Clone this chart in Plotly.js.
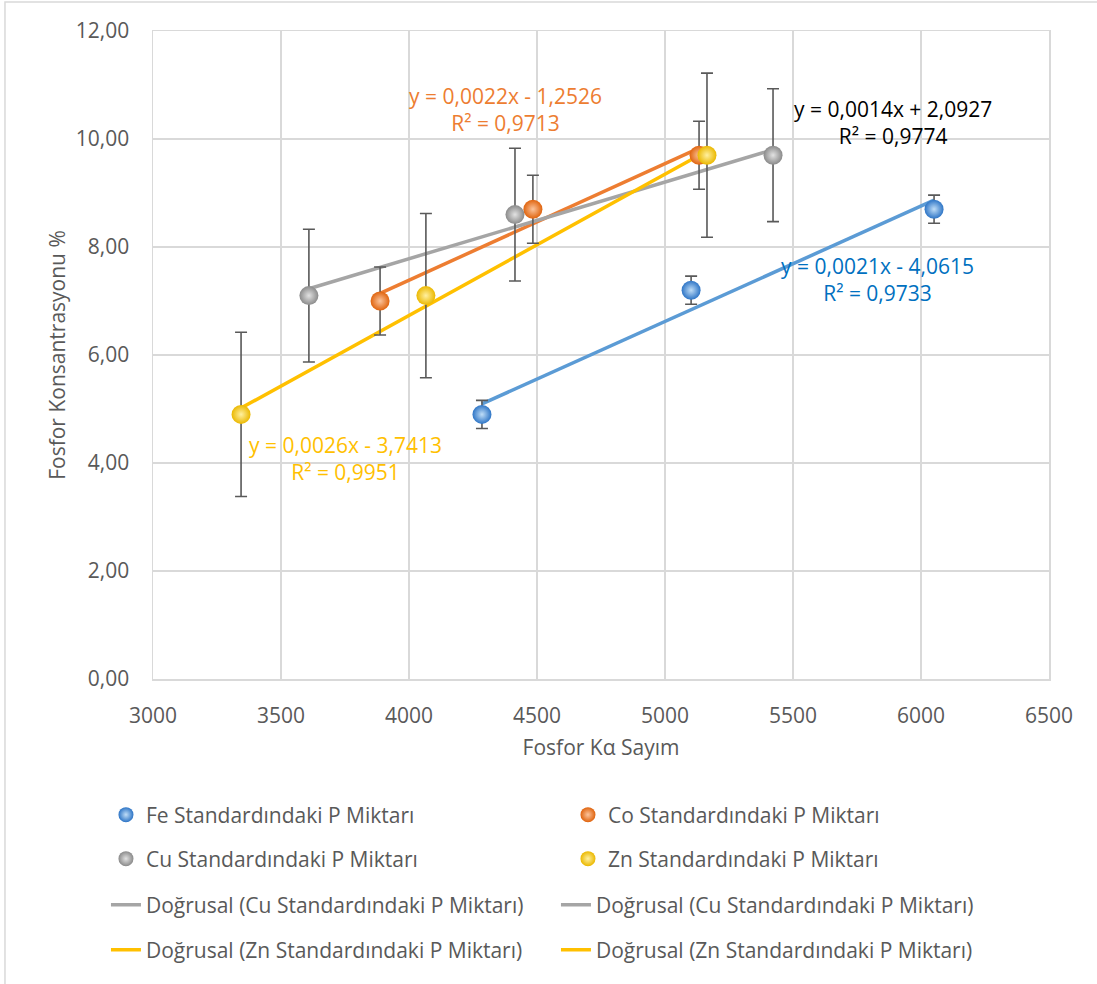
<!DOCTYPE html>
<html>
<head>
<meta charset="utf-8">
<script src="https://cdn.plot.ly/plotly-3.0.1.min.js"></script>
<style>
html,body{margin:0;padding:0;background:#fff;}
#chart{width:1097px;height:984px;}
</style>
</head>
<body>
<div id="chart"></div>
<script>
// ---- Data ----
const feX = [4285, 5102, 6051];
const feY = [4.9, 7.2, 8.7];
const feErr = [0.26, 0.26, 0.26];

const coX = [3887, 4484, 5133];
const coY = [7.0, 8.7, 9.7];
const coErr = [0.63, 0.63, 0.63];

const cuX = [3609, 4414, 5422];
const cuY = [7.1, 8.6, 9.7];
const cuErr = [1.23, 1.23, 1.23];

const znX = [3344, 4066, 5164];
const znY = [4.9, 7.1, 9.7];
const znErr = [1.52, 1.52, 1.52];

// trendline labels as shown on the chart
const eqFe = ["y = 0,0021x - 4,0615", "R² = 0,9733"];
const eqCo = ["y = 0,0022x - 1,2526", "R² = 0,9713"];
const eqCu = ["y = 0,0014x + 2,0927", "R² = 0,9774"];
const eqZn = ["y = 0,0026x - 3,7413", "R² = 0,9951"];

const names = {
  fe: "Fe Standardındaki P Miktarı",
  co: "Co Standardındaki P Miktarı",
  cu: "Cu Standardındaki P Miktarı",
  zn: "Zn Standardındaki P Miktarı",
  linCu: "Doğrusal (Cu Standardındaki P Miktarı)",
  linZn: "Doğrusal (Zn Standardındaki P Miktarı)"
};

const C = {fe:"#5B9BD5", co:"#ED7D31", cu:"#A5A5A5", zn:"#FFC000"};
const M = {fe:"#2E75C6", co:"#E0640E", cu:"#8A8A8A", zn:"#EBB800"};
const G = {fe:"#BFDDF7", co:"#FBC49C", cu:"#E2E2E2", zn:"#FFF0A0"};
const textC = {fe:"#0070C0", co:"#ED7D31", cu:"#000000", zn:"#FFC000"};

// least-squares linear trendline (as Excel does), drawn over the data's x span
function trend(xs, ys, color){
  const n = xs.length;
  const mx = xs.reduce((a,b)=>a+b,0)/n, my = ys.reduce((a,b)=>a+b,0)/n;
  let sxy=0, sxx=0;
  for(let i=0;i<n;i++){ sxy+=(xs[i]-mx)*(ys[i]-my); sxx+=(xs[i]-mx)*(xs[i]-mx); }
  const b = sxy/sxx, a = my - b*mx;
  const x0 = Math.min(...xs), x1 = Math.max(...xs);
  return {x:[x0,x1], y:[a+b*x0, a+b*x1], mode:"lines", type:"scatter",
    line:{color:color, width:3.5}, showlegend:false, hoverinfo:"skip"};
}
function pts(xs, ys, err, name, k){
  return {x:xs, y:ys, name:name, mode:"markers", type:"scatter", showlegend:false,
    marker:{size:19, color:M[k], gradient:{type:"radial", color:G[k]}, line:{width:0}},
    error_y:{type:"data", array:err, visible:true, color:"#595959", thickness:1.6, width:6}};
}
function legMarker(name, k, lg){
  return {x:[null], y:[null], name:name, mode:"markers", type:"scatter", legend:lg,
    marker:{size:15, color:M[k], gradient:{type:"radial", color:G[k]}}};
}
function legLine(name, color, lg){
  return {x:[null], y:[null], name:name, mode:"lines", type:"scatter", legend:lg,
    line:{color:color, width:3.5}};
}

const data = [
  trend(feX, feY, C.fe), trend(coX, coY, C.co), trend(cuX, cuY, C.cu), trend(znX, znY, C.zn),
  pts(feX, feY, feErr, names.fe, "fe"), pts(coX, coY, coErr, names.co, "co"),
  pts(cuX, cuY, cuErr, names.cu, "cu"), pts(znX, znY, znErr, names.zn, "zn"),
  legMarker(names.fe, "fe", "legend"), legMarker(names.co, "co", "legend"),
  legMarker(names.cu, "cu", "legend2"), legMarker(names.zn, "zn", "legend2"),
  legLine(names.linCu, C.cu, "legend3"), legLine(names.linCu, C.cu, "legend3"),
  legLine(names.linZn, C.zn, "legend4"), legLine(names.linZn, C.zn, "legend4")
];

const font = "Open Sans, sans-serif";
const FS = 21;
function ann(x, y, lines, color){
  return {x:x, y:y, xref:"x", yref:"y", text:lines.join("<br>"), showarrow:false,
    align:"center", font:{family:font, size:FS, color:color}};
}
function leg(y, ew){
  return {orientation:"h", x:-0.0525, xanchor:"left", y:y, yanchor:"middle",
    entrywidth:ew, entrywidthmode:"pixels", itemwidth:30,
    font:{family:font, size:FS, color:"#595959"}, bgcolor:"rgba(0,0,0,0)"};
}

const layout = {
  width:1097, height:984,
  margin:{l:153, r:48, t:31, b:305},
  paper_bgcolor:"#fff", plot_bgcolor:"#fff",
  separators:",.",
  font:{family:font, size:FS, color:"#595959"},
  xaxis:{range:[3000,6500], dtick:500, tickformat:"d", showgrid:true, gridcolor:"#d9d9d9", gridwidth:1.5,
    zeroline:false, showline:true, linecolor:"#d9d9d9", linewidth:1.5, mirror:true, ticks:"",
    ticklabelstandoff:17, tickfont:{size:FS, color:"#595959"},
    title:{text:"Fosfor Kα Sayım", font:{size:FS, color:"#595959"}, standoff:12}},
  yaxis:{range:[0,12], dtick:2, tickformat:".2f", showgrid:true, gridcolor:"#d9d9d9", gridwidth:1.5,
    zeroline:false, showline:true, linecolor:"#d9d9d9", linewidth:1.5, mirror:true, ticks:"",
    ticklabelstandoff:18, tickfont:{size:FS, color:"#595959"},
    title:{text:"Fosfor Konsantrasyonu %", font:{size:FS, color:"#595959"}, standoff:4}},
  legend: leg(-0.2099, 417),
  legend2: leg(-0.2778, 417),
  legend3: leg(-0.3488, 405),
  legend4: leg(-0.4182, 405),
  annotations:[
    ann(4375, 10.54, eqCo, textC.co),
    ann(5891, 10.30, eqCu, textC.cu),
    ann(5832, 7.39, eqFe, textC.fe),
    ann(3750, 4.09, eqZn, textC.zn)
  ],
  shapes:[{type:"rect", xref:"paper", yref:"paper", x0:-0.1652, x1:1.1, y0:-0.6, y1:1.0448,
    line:{color:"#d9d9d9", width:1.5}, fillcolor:"rgba(0,0,0,0)", layer:"below"}]
};

Plotly.newPlot("chart", data, layout, {displayModeBar:false, staticPlot:true});
</script>
</body>
</html>
